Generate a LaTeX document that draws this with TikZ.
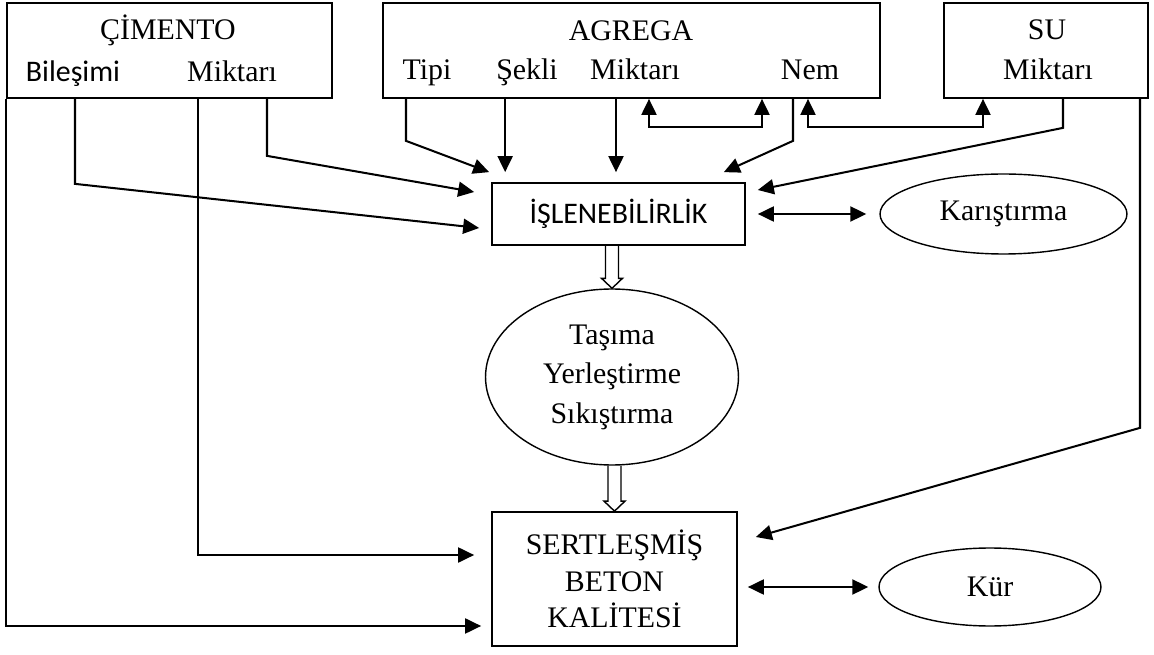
\documentclass[tikz,border=0pt]{standalone}
\usepackage{fontspec}
\setmainfont{Liberation Serif}
\newfontfamily\carlito{Carlito}
\usetikzlibrary{calc,shapes.geometric,arrows.meta}

\newcommand{\trfont}{\fontsize{17}{22.5}\selectfont}
\newcommand{\trsans}{\fontsize{17}{22.5}\carlito}
\newcommand{\holarrow}[2]{%
  \draw[line width=0.8pt] ($(#1 -| #2)+(-0.13cm,0)$) -- ($(#2)+(-0.13cm,0.2cm)$)
    -- ($(#2)+(-0.21cm,0.2cm)$) -- (#2) -- ($(#2)+(0.21cm,0.2cm)$)
    -- ($(#2)+(0.13cm,0.2cm)$) -- ($(#1 -| #2)+(0.13cm,0)$);}

\tikzset{
  box/.style={draw, line width=1pt, inner sep=0pt},
  oval/.style={draw, ellipse, line width=0.8pt, inner sep=0pt, align=center},
  lbl/.style={anchor=base, inner sep=0pt},
  arr/.style={line width=1.15pt, -{Triangle[length=0.32cm,width=0.3cm]}},
  dblarr/.style={line width=1.15pt, {Triangle[length=0.32cm,width=0.3cm]}-{Triangle[length=0.32cm,width=0.3cm]}},
}

\begin{document}
\begin{tikzpicture}[x=0.02cm, y=-0.02cm, every node/.style={font=\trfont}]
\useasboundingbox (0,0) rectangle (1154,655);

\node[box, minimum width=6.5cm, minimum height=1.9cm] (cimento) at (169.5,50.5) {};
\node[box, minimum width=9.94cm, minimum height=1.9cm] (agrega) at (631.5,50.5) {};
\node[box, minimum width=4.08cm, minimum height=1.9cm] (su) at (1046,50.5) {};

\node[lbl] (cimtit) at (168,40) {ÇİMENTO};
\node[lbl, font=\trsans] (cbil) at (73,82) {Bileşimi};
\node[lbl] (cmik) at (232,82) {Miktarı};
\node[lbl] (agtit) at (631,41) {AGREGA};
\node[lbl] (tipi) at (427,80) {Tipi};
\node[lbl] (sekli) at (527,80) {Şekli};
\node[lbl] (amik) at (635,80) {Miktarı};
\node[lbl] (nem) at (810,80) {Nem};
\node[lbl] (sutit) at (1047,40) {SU};
\node[lbl] (smik) at (1048,80) {Miktarı};

\node[box, font=\trsans, minimum width=5.06cm, minimum height=1.24cm] (islen) at (618.5,214) {İŞLENEBİLİRLİK};
\node[oval, minimum width=4.94cm, minimum height=1.6cm] (kar) at (1003.5,214) {Karıştırma};
\node[oval, minimum width=5.06cm, minimum height=3.52cm] (tasima) at (612,377) {Taşıma\\Yerleştirme\\Sıkıştırma};
\node[box, align=center, font=\fontsize{17}{20.8}\selectfont, minimum width=4.9cm, minimum height=2.68cm] (beton) at (614.5,579) {SERTLEŞMİŞ\\BETON\\KALİTESİ};
\node[oval, minimum width=4.44cm, minimum height=1.56cm] (kur) at (990,587) {Kür};

\coordinate (t-tipi) at ([xshift=-0.04cm,yshift=0.2cm]islen.north west);
\coordinate (t-sekli) at ([xshift=0.28cm,yshift=0.2cm]islen.north west);
\coordinate (t-amik) at ([xshift=-0.05cm,yshift=0.2cm]islen.north);
\coordinate (t-nem) at ([xshift=-0.44cm,yshift=0.2cm]islen.north east);
\coordinate (t-cmik) at ([xshift=-0.34cm,yshift=0.44cm]islen.west);
\coordinate (t-cbil) at ([xshift=-0.24cm,yshift=-0.28cm]islen.west);
\coordinate (t-su) at ([xshift=0.24cm,yshift=0.48cm]islen.east);
\coordinate (b-cmik) at ([xshift=-0.34cm,yshift=0.48cm]beton.west);
\coordinate (b-cim) at ([xshift=-0.2cm,yshift=-0.94cm]beton.west);
\coordinate (b-su) at ([xshift=0.36cm,yshift=0.84cm]beton.east);

\draw[arr] (cimento.south west) |- (b-cim);
\draw[arr] (cimento.south -| 75,0) -- ++(0,85) -- (t-cbil);
\draw[arr] (cimento.south -| 198,0) |- (b-cmik);
\draw[arr] (cimento.south -| 267,0) -- ++(0,57) -- (t-cmik);

\draw[arr] (agrega.south -| 406,0) -- ++(0,42) -- (t-tipi);
\draw[arr] (agrega.south -| t-sekli) -- (t-sekli);
\draw[arr] (agrega.south -| t-amik) -- (t-amik);
\draw[arr] (agrega.south -| 793,0) -- ++(0,42) -- (t-nem);
\draw[dblarr] (agrega.south -| 649,0) -- ++(0,28) -| (agrega.south -| 762,0);
\draw[dblarr] (agrega.south -| 808,0) -- ++(0,28) -| (su.south -| 983,0);

\draw[arr] (su.south -| 1063,0) -- ++(0,29) -- (t-su);
\draw[arr] (su.south -| 1140,0) -- ++(0,329) -- (b-su);

\draw[dblarr, shorten <=0.24cm, shorten >=0.26cm] (islen.east) -- (kar.west);
\draw[dblarr, shorten <=0.2cm, shorten >=0.2cm] (beton.east |- kur.west) -- (kur.west);

\holarrow{islen.south}{tasima.north}
\holarrow{tasima.south}{beton.north}

\end{tikzpicture}
\end{document}
